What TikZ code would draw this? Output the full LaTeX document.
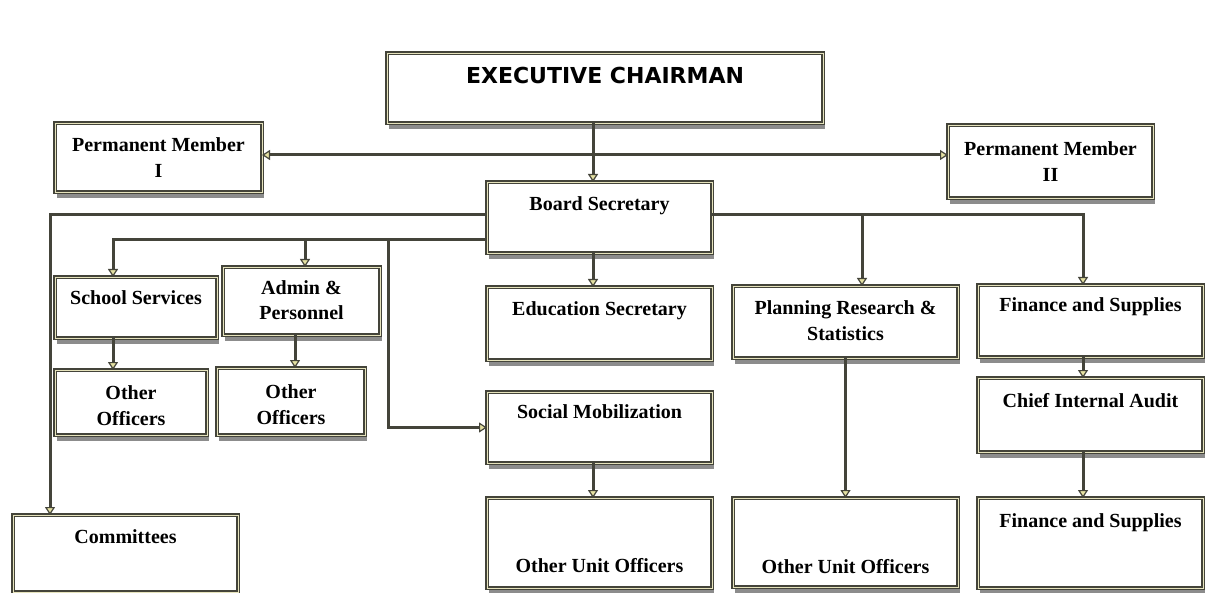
\documentclass[tikz,border=0pt]{standalone}
\usepackage{fontspec}
\setmainfont{Liberation Serif}
\newfontfamily\headfont{DejaVu Sans}
\usetikzlibrary{arrows.meta,shadows}

\definecolor{edge}{HTML}{44443A}
\definecolor{cream}{HTML}{E6E3BC}
\definecolor{tipfill}{HTML}{E4E0A2}

\tikzset{
	box/.style 2 args={draw=edge, line width=.95pt, double=cream, double distance=.4pt,
		fill=white, outer sep=0pt, minimum width=#1, minimum height=#2,
		drop shadow={shadow xshift=1pt, shadow yshift=-3pt, fill=black!75, opacity=.6}},
	txt/.style={anchor=base, align=center, inner sep=0pt, text=black,
		font=\bfseries\fontsize{10}{13}\selectfont},
	link/.style={draw=edge, line width=1.5pt},
	arr/.style={link, -{Triangle[width=5pt, length=4pt, fill=tipfill, line width=.6pt]}},
}

\begin{document}
\begin{tikzpicture}[x=.5pt, y=-.5pt]
\path[use as bounding box, fill=white] (0,0) rectangle (1210,593);

% branch points of the connectors
\coordinate (top) at (593,155);
\coordinate (upper) at (50,215);
\coordinate (right) at (1083,215);
\coordinate (pl) at (862,215);
\coordinate (lower) at (113,240);
\coordinate (ad) at (305,240);
\coordinate (so) at (388,240);
\coordinate (off) at (295,0);

% top
\node[box={218pt}{35pt}, label={[txt, font=\headfont\bfseries\fontsize{11}{13}\selectfont, yshift=-15.5pt]north:EXECUTIVE CHAIRMAN}] (chair) at (605,88) {};
\node[box={103.5pt}{34.5pt}, label={[txt, yshift=-27.5pt]north:Permanent Member\\I}] (pm1) at (158.5,157.5) {};
\node[box={102.5pt}{36.5pt}, label={[txt, yshift=-28.5pt]north:Permanent Member\\II}] (pm2) at (1050.5,161.5) {};
\node[box={112.5pt}{35.5pt}, label={[txt, yshift=-14.5pt]north:Board Secretary}] (bs) at (599.5,217.5) {};

% units
\node[box={81pt}{30.5pt}, label={[txt, yshift=-14pt]north:School Services}] (school) at (136,307.5) {};
\node[box={78.5pt}{34pt}, label={[txt, yshift=-26.5pt]north:Admin \&\\Personnel}] (admin) at (301.5,301) {};
\node[box={76pt}{32.5pt}, label={[txt, yshift=-27.5pt]north:Other\\Officers}] (oo1) at (131,402.5) {};
\node[box={74pt}{33.5pt}, label={[txt, yshift=-28pt]north:Other\\Officers}] (oo2) at (291,401.5) {};
\node[box={112.5pt}{36.5pt}, label={[txt, yshift=-14pt]north:Education Secretary}] (edu) at (599.5,323.5) {};
\node[box={112.5pt}{35.5pt}, label={[txt, yshift=-13pt]north:Social Mobilization}] (soc) at (599.5,427.5) {};
\node[box={112.5pt}{45pt}, label={[txt, yshift=-37pt]north:Other Unit Officers}] (ouo1) at (599.5,543) {};
\node[box={112.5pt}{36pt}, label={[txt, yshift=-27pt]north:Planning Research \&\\Statistics}] (plan) at (845.5,322) {};
\node[box={112.5pt}{44.5pt}, label={[txt, yshift=-37.5pt]north:Other Unit Officers}] (ouo2) at (845.5,542.5) {};
\node[box={112.5pt}{36pt}, label={[txt, yshift=-13.5pt]north:Finance and Supplies}] (fin1) at (1090.5,321) {};
\node[box={112.5pt}{37pt}, label={[txt, yshift=-14.5pt]north:Chief Internal Audit}] (audit) at (1090.5,415) {};
\node[box={112.5pt}{45pt}, label={[txt, yshift=-14.5pt]north:Finance and Supplies}] (fin2) at (1090.5,543) {};
\node[box={112.5pt}{38.5pt}, label={[txt, yshift=-14pt]north:Committees}] (comm) at (125.5,553.5) {};

% connectors
\draw[link] (chair.south -| top) -- (top);
\draw[arr] (top) -- (top |- bs.north);
\draw[arr] (top) -- (top -| pm1.east);
\draw[arr] (top) -- (top -| pm2.west);

\draw[arr] (bs.west |- upper) -| (upper |- comm.north);
\draw[arr] (bs.east |- right) -| (right |- fin1.north);
\draw[arr] (pl) -- (pl |- plan.north);
\draw[arr] (bs.west |- lower) -| (lower |- school.north);
\draw[arr] (ad) -- (ad |- admin.north);
\draw[arr] (so) |- (soc.west);
\draw[arr] (bs.south -| top) -- (edu.north -| top);

\draw[arr] (school.south -| lower) -- (oo1.north -| lower);
\draw[arr] (admin.south -| off) -- (oo2.north -| off);
\draw[arr] (soc.south -| top) -- (ouo1.north -| top);
\draw[arr] (plan.south) -- (ouo2.north);
\draw[arr] (fin1.south -| right) -- (audit.north -| right);
\draw[arr] (audit.south -| right) -- (fin2.north -| right);
\end{tikzpicture}
\end{document}
